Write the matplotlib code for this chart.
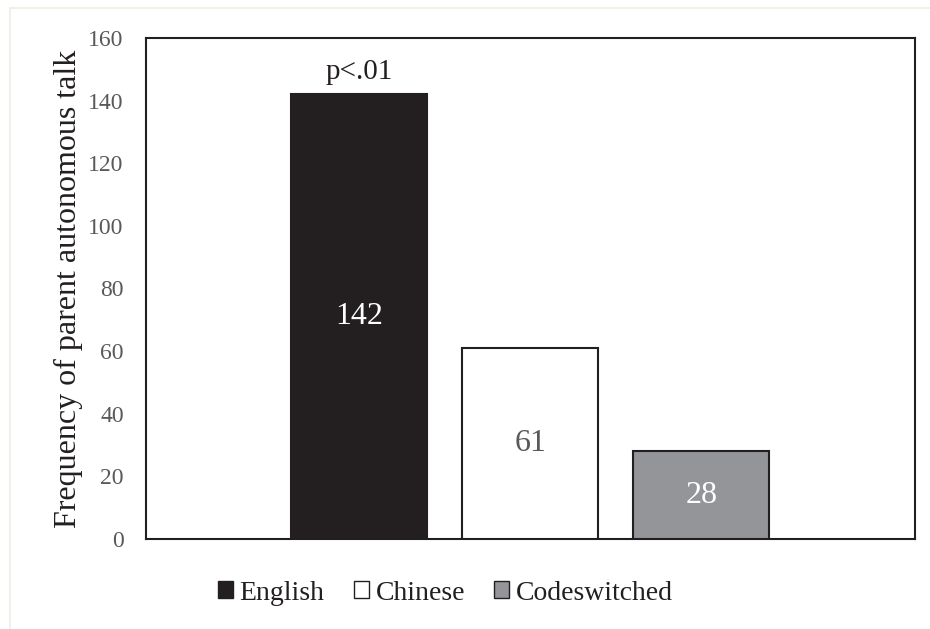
import matplotlib
matplotlib.use("Agg")
import matplotlib.pyplot as plt
from matplotlib.lines import Line2D
from matplotlib.patches import Patch

categories = ["English", "Chinese", "Codeswitched"]
values = [142, 61, 28]
colors = ["#231f20", "#ffffff", "#939598"]
label_colors = ["#ffffff", "#595959", "#ffffff"]
yticks = [0, 20, 40, 60, 80, 100, 120, 140, 160]

plt.rcParams['font.family'] = ['Liberation Serif', 'DejaVu Serif']

fig = plt.figure(figsize=(9.3, 6.29), dpi=100)
ax = fig.add_axes([146/930, 1-539/629, (915-146)/930, (539-38)/629])

x = list(range(len(categories)))
bars = ax.bar(x, values, width=0.795, color=colors, edgecolor="#231f20", linewidth=1.5, zorder=3)
ax.set_xlim(-1.246, 3.25)
ax.set_ylim(0, 160)
ax.set_yticks(yticks)
ax.set_yticklabels([str(t) for t in yticks], fontsize=17, color="#595959")
ax.set_xticks([])
ax.tick_params(axis='y', length=0, pad=16)
for s in ax.spines.values():
    s.set_linewidth(1.5)
    s.set_color("#231f20")
ax.set_ylabel("Frequency of parent autonomous talk", fontsize=23, color="#231f20", labelpad=4)

for xi, v, lc in zip(x, values, label_colors):
    ax.text(xi, v/2, str(v), ha='center', va='center', fontsize=23, color=lc, zorder=4)
ax.text(0, values[0] + 3, "p<.01", ha='center', va='bottom', fontsize=21, color="#231f20")

handles = [Patch(facecolor=c, edgecolor="#231f20", linewidth=1.0) for c in colors]
fig.legend(handles, categories, loc='center', bbox_to_anchor=(445.5/930, 1-593/629), ncol=3,
           frameon=False, fontsize=20, handlelength=0.54, handleheight=0.54, handletextpad=0.25,
           columnspacing=1.05, labelcolor="#231f20")

# faint outer frame lines
fig.add_artist(Line2D([10/930, 1], [1-8/629, 1-8/629], color="#efeee4", linewidth=1.2, transform=fig.transFigure))
fig.add_artist(Line2D([10/930, 10/930], [0, 1-8/629], color="#efeee4", linewidth=1.2, transform=fig.transFigure))

fig.savefig("out.png", dpi=100)
